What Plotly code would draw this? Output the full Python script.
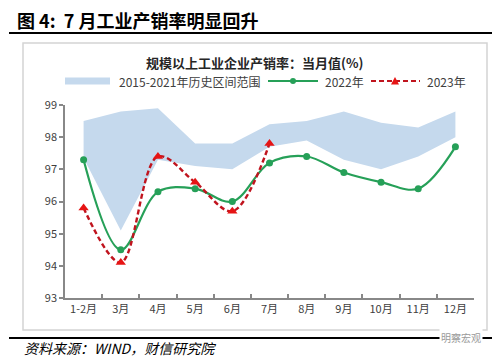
import plotly.graph_objects as go

months = ["1-2月", "3月", "4月", "5月", "6月", "7月", "8月", "9月", "10月", "11月", "12月"]
band_low = [97.35, 95.1, 97.3, 97.1, 97.0, 97.7, 97.9, 97.3, 97.0, 97.4, 98.0]
band_high = [98.5, 98.8, 98.9, 97.8, 97.8, 98.4, 98.5, 98.8, 98.45, 98.3, 98.8]
y2022 = [97.3, 94.5, 96.3, 96.4, 96.0, 97.2, 97.4, 96.9, 96.6, 96.4, 97.7]
months_2023 = months[:6]
y2023 = [95.8, 94.1, 97.4, 96.6, 95.7, 97.8]

W, H = 500, 358
L, R, T, B = 57, 466, 97, 290

def px(x):
    return (x - L) / (R - L)

def py(y):
    return (B - y) / (B - T)

BAND = "rgb(197,217,237)"
GREEN = "rgb(38,160,88)"
RED_LINE = "rgb(192,20,30)"
RED_MK = "rgb(230,20,20)"
CJK = "Noto Sans CJK SC, sans-serif"

fig = go.Figure()
fig.add_trace(go.Scatter(x=months, y=band_low, mode="lines", line=dict(width=0),
                         showlegend=False, hoverinfo="skip"))
fig.add_trace(go.Scatter(x=months, y=band_high, mode="lines", line=dict(width=0),
                         fill="tonexty", fillcolor=BAND, name="2015-2021年历史区间范围",
                         showlegend=False))
fig.add_trace(go.Scatter(x=months, y=y2022, mode="lines+markers", name="2022年",
                         line=dict(color=GREEN, width=2.2, shape="spline", smoothing=1),
                         marker=dict(color=GREEN, size=7, symbol="circle"),
                         showlegend=False))
fig.add_trace(go.Scatter(x=months_2023, y=y2023, mode="lines+markers", name="2023年",
                         line=dict(color=RED_LINE, width=2.4, dash="5px,3px", shape="spline", smoothing=1),
                         marker=dict(color=RED_MK, size=9, symbol="triangle-up"),
                         showlegend=False))

shapes = []
annotations = []

# chart frame
shapes.append(dict(type="rect", xref="paper", yref="paper",
                   x0=px(15), x1=px(479), y0=py(322), y1=py(35),
                   line=dict(color="#d4d4d4", width=1.5), layer="below"))
# title underline and source line
shapes.append(dict(type="line", xref="paper", yref="paper",
                   x0=px(1), x1=px(496), y0=py(25), y1=py(25),
                   line=dict(color="black", width=2)))
shapes.append(dict(type="line", xref="paper", yref="paper",
                   x0=px(1), x1=px(496), y0=py(330), y1=py(330),
                   line=dict(color="black", width=2)))

# legend
ly = 73
shapes.append(dict(type="rect", xref="paper", yref="paper",
                   x0=px(57), x1=px(102), y0=py(ly + 3.5), y1=py(ly - 3.5),
                   fillcolor=BAND, line=dict(width=0)))
annotations.append(dict(text="2015-2021年历史区间范围", xref="paper", yref="paper",
                        x=px(109), y=py(ly), xanchor="left", yanchor="middle", showarrow=False,
                        font=dict(family=CJK, size=12, color="#404040")))
shapes.append(dict(type="line", xref="paper", yref="paper",
                   x0=px(260), x1=px(310), y0=py(ly), y1=py(ly),
                   line=dict(color=GREEN, width=2)))
shapes.append(dict(type="circle", xref="paper", yref="paper",
                   x0=px(282), x1=px(288), y0=py(ly + 3), y1=py(ly - 3),
                   fillcolor=GREEN, line=dict(width=0)))
annotations.append(dict(text="2022年", xref="paper", yref="paper",
                        x=px(315), y=py(ly), xanchor="left", yanchor="middle", showarrow=False,
                        font=dict(family=CJK, size=12, color="#404040")))
shapes.append(dict(type="line", xref="paper", yref="paper",
                   x0=px(363), x1=px(412), y0=py(ly), y1=py(ly),
                   line=dict(color=RED_LINE, width=2.2, dash="5px,3px")))
tx0, tx1, tc = px(383), px(391), px(387)
shapes.append(dict(type="path", xref="paper", yref="paper",
                   path=f"M {tx0},{py(ly+3.5)} L {tx1},{py(ly+3.5)} L {tc},{py(ly-4)} Z",
                   fillcolor=RED_MK, line=dict(width=0)))
annotations.append(dict(text="2023年", xref="paper", yref="paper",
                        x=px(417), y=py(ly), xanchor="left", yanchor="middle", showarrow=False,
                        font=dict(family=CJK, size=12, color="#404040")))

# titles
annotations.append(dict(text="<b>图 4:  7 月工业产销率明显回升</b>", xref="paper", yref="paper",
                        x=px(7), y=py(12), xanchor="left", yanchor="middle", showarrow=False,
                        font=dict(family=CJK, size=18, color="black")))
annotations.append(dict(text="<b>规模以上工业企业产销率：当月值(%)</b>", xref="paper", yref="paper",
                        x=px(246), y=py(55), xanchor="center", yanchor="middle", showarrow=False,
                        font=dict(family=CJK, size=13, color="#262626")))
annotations.append(dict(text="<i>资料来源：WIND，财信研究院</i>", xref="paper", yref="paper",
                        x=px(14), y=py(340), xanchor="left", yanchor="middle", showarrow=False,
                        font=dict(family=CJK, size=14, color="black")))
annotations.append(dict(text="明察宏观", xref="paper", yref="paper",
                        x=px(475), y=py(329), xanchor="right", yanchor="middle", showarrow=False,
                        bgcolor="white", font=dict(family=CJK, size=10, color="#9a9a9a")))

fig.update_layout(
    width=W, height=H,
    margin=dict(l=L, r=W - R, t=T, b=H - B),
    paper_bgcolor="white", plot_bgcolor="white",
    shapes=shapes, annotations=annotations,
    showlegend=False,
    xaxis=dict(type="category", range=[-0.5, 10.5], tickson="boundaries",
               ticks="inside", ticklen=4, tickcolor="#888888", tickwidth=1.5,
               showline=True, linecolor="#888888", linewidth=1.5, showgrid=False,
               tickfont=dict(family=CJK, size=11, color="#404040")),
    yaxis=dict(range=[93, 99], dtick=1, ticks="outside", ticklen=4,
               tickcolor="#888888", tickwidth=1.5,
               showline=True, linecolor="#888888", linewidth=1.5,
               showgrid=False, zeroline=False,
               tickfont=dict(family=CJK, size=11, color="#404040")),
)

fig.write_html("out.html")
